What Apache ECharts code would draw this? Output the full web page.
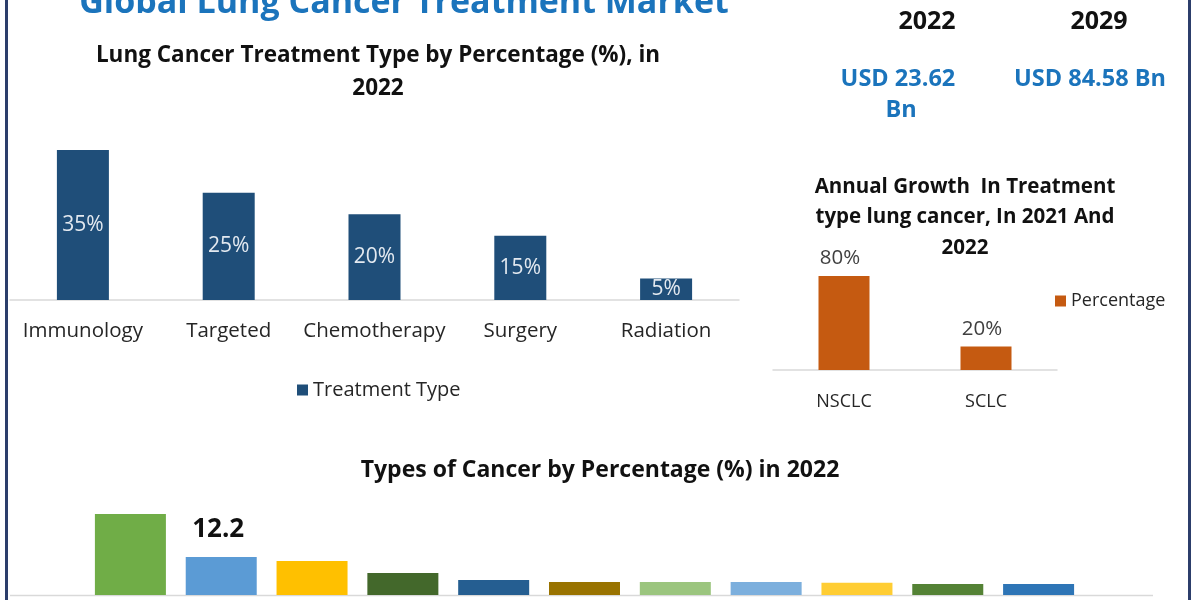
<!DOCTYPE html>
<html><head><meta charset="utf-8">
<script src="https://cdn.jsdelivr.net/npm/echarts@6/dist/echarts.min.js"></script>
<style>html,body{margin:0;padding:0;background:#fff}#c{width:1200px;height:600px}</style>
</head><body><div id="c"></div>
<script>
// ---- data ----
const mainTitle = 'Global Lung Cancer Treatment Market';
const treatmentTitle = 'Lung Cancer Treatment Type by Percentage (%), in\n2022';
const treatmentSeriesName = 'Treatment Type';
const treatmentCategories = ['Immunology', 'Targeted', 'Chemotherapy', 'Surgery', 'Radiation'];
const treatmentValues = [35, 25, 20, 15, 5];

const growthTitle = 'Annual Growth  In Treatment\ntype lung cancer, In 2021 And\n2022';
const growthSeriesName = 'Percentage';
const growthCategories = ['NSCLC', 'SCLC'];
const growthValues = [80, 20];

const cancerTitle = 'Types of Cancer by Percentage (%) in 2022';
const cancerCategories = ['Breast', 'Lung', 'Colorectum', 'Prostate', 'Stomach', 'Liver', 'Cervix uteri', 'Oesophagus', 'Thyroid', 'Bladder', 'Non-Hodgkin lymphoma'];
const cancerValues = [26.0, 12.2, 10.9, 7.1, 4.8, 4.2, 4.2, 4.2, 3.9, 3.5, 3.5];
const cancerLabeledIndex = 1;

const marketYears = ['2022', '2029'];
const marketValues = [23.62, 84.58];

// ---- styles ----
const FONT = '"Open Sans", "DejaVu Sans", sans-serif';
const cancerColors = ['#70ad47', '#5b9bd5', '#ffc000', '#43682b', '#255e91', '#997300', '#9bc57e', '#7cafdd', '#ffcd33', '#548235', '#2e75b6'];
const BLUE = '#1b74bc';

const chart = echarts.init(document.getElementById('c'), null, {renderer: 'canvas'});

const cancerData = cancerValues.map((v, i) => {
  const item = {value: v, itemStyle: {color: cancerColors[i % cancerColors.length]}};
  if (i === cancerLabeledIndex) {
    item.label = {show: true, position: 'top', distance: 14, offset: [-3, 0], fontSize: 26, fontWeight: 'bold', color: '#111', fontFamily: FONT};
  }
  return item;
});

const graphics = [
  {type: 'rect', shape: {x: 5, y: 0, width: 3, height: 600}, style: {fill: '#2c3e6b'}, silent: true},
  {type: 'rect', shape: {x: 1188, y: 0, width: 3, height: 600}, style: {fill: '#2c3e6b'}, silent: true},
  {type: 'text', style: {x: 404, y: 3, text: mainTitle, textAlign: 'center', textVerticalAlign: 'middle', fontSize: 34, fontWeight: 'bold', fontFamily: FONT, fill: BLUE}},
  {type: 'text', style: {x: 378, y: 38.5, text: treatmentTitle, textAlign: 'center', textVerticalAlign: 'top', lineHeight: 33.5, fontSize: 22.5, fontWeight: 'bold', fontFamily: FONT, fill: '#111'}},
  {type: 'text', style: {x: 965, y: 171.5, text: growthTitle, textAlign: 'center', textVerticalAlign: 'top', lineHeight: 30.5, fontSize: 20.5, fontWeight: 'bold', fontFamily: FONT, fill: '#111'}},
  {type: 'text', style: {x: 600, y: 470.5, text: cancerTitle, textAlign: 'center', textVerticalAlign: 'middle', fontSize: 23, fontWeight: 'bold', fontFamily: FONT, fill: '#111'}},
  {type: 'text', style: {x: 927, y: 22, text: marketYears[0], textAlign: 'center', textVerticalAlign: 'middle', fontSize: 25, fontWeight: 'bold', fontFamily: FONT, fill: '#111'}},
  {type: 'text', style: {x: 1099, y: 22, text: marketYears[1], textAlign: 'center', textVerticalAlign: 'middle', fontSize: 25, fontWeight: 'bold', fontFamily: FONT, fill: '#111'}},
  {type: 'text', style: {x: 901, y: 64, text: 'USD ' + marketValues[0] + ' Bn', width: 140, overflow: 'break', textAlign: 'center', textVerticalAlign: 'top', lineHeight: 31, fontSize: 23.5, fontWeight: 'bold', fontFamily: FONT, fill: BLUE}},
  {type: 'text', style: {x: 1090, y: 64, text: 'USD ' + marketValues[1] + ' Bn', textAlign: 'center', textVerticalAlign: 'top', lineHeight: 31, fontSize: 23.5, fontWeight: 'bold', fontFamily: FONT, fill: BLUE}},
  {type: 'line', shape: {x1: 10, y1: 595.5, x2: 1153, y2: 595.5}, style: {stroke: '#d9d9d9', lineWidth: 1.5}, silent: true}
];

const option = {
  animation: false,
  backgroundColor: '#ffffff',
  textStyle: {fontFamily: FONT},
  grid: [
    {left: 10, top: 150, width: 729, height: 150},
    {left: 773, top: 276, width: 284, height: 94},
    {left: 85, top: 514, width: 999, height: 81}
  ],
  xAxis: [
    {type: 'category', gridIndex: 0, data: treatmentCategories, axisLine: {lineStyle: {color: '#d9d9d9', width: 1.5}}, axisTick: {show: false},
     axisLabel: {interval: 0, fontSize: 20.5, color: '#262626', margin: 21, fontFamily: FONT}},
    {type: 'category', gridIndex: 1, data: growthCategories, axisLine: {lineStyle: {color: '#d9d9d9', width: 1.5}}, axisTick: {show: false},
     axisLabel: {interval: 0, fontSize: 18, color: '#262626', margin: 23, fontFamily: FONT}},
    {type: 'category', gridIndex: 2, data: cancerCategories, axisLine: {show: false}, axisTick: {show: false}, axisLabel: {show: false}}
  ],
  yAxis: [
    {type: 'value', gridIndex: 0, min: 0, max: 35, show: false},
    {type: 'value', gridIndex: 1, min: 0, max: 80, show: false},
    {type: 'value', gridIndex: 2, min: 0, max: 26, show: false}
  ],
  legend: [
    {data: [treatmentSeriesName], left: 292, top: 375, icon: 'rect', itemWidth: 11, itemHeight: 11, textStyle: {fontSize: 20, color: '#262626', fontFamily: FONT}},
    {data: [growthSeriesName], left: 1050, top: 287, icon: 'rect', itemWidth: 11, itemHeight: 11, textStyle: {fontSize: 18, color: '#262626', fontFamily: FONT}}
  ],
  series: [
    {name: treatmentSeriesName, type: 'bar', xAxisIndex: 0, yAxisIndex: 0, data: treatmentValues, barWidth: 52, itemStyle: {color: '#1f4e79'},
     label: {show: true, position: 'inside', formatter: '{c}%', fontSize: 21, color: '#e3e9f0', fontFamily: FONT}},
    {name: growthSeriesName, type: 'bar', xAxisIndex: 1, yAxisIndex: 1, data: growthValues, barWidth: 51, itemStyle: {color: '#c55a11'},
     label: {show: true, position: 'top', distance: 7, offset: [-4, 0], formatter: '{c}%', fontSize: 20.5, color: '#404040', fontFamily: FONT}},
    {name: 'Types of Cancer', type: 'bar', xAxisIndex: 2, yAxisIndex: 2, data: cancerData, barWidth: 71}
  ],
  graphic: graphics
};
chart.setOption(option);
</script>
</body></html>
